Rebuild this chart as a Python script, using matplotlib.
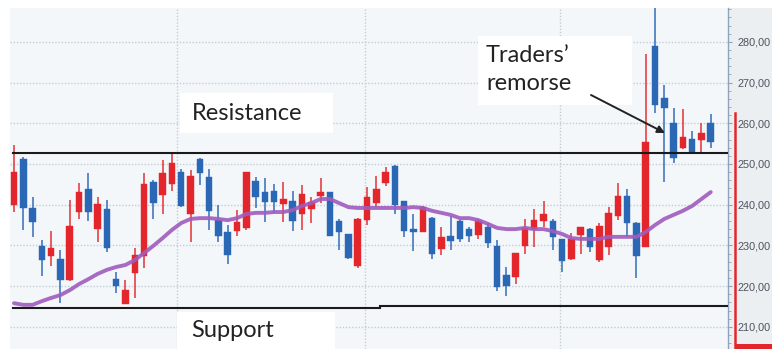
import numpy as np
import matplotlib.pyplot as plt
from matplotlib.patches import Rectangle
from matplotlib.lines import Line2D

# ---- Daily candles (price) ----
opens = [239.9, 251.2, 239.3, 229.9, 227.5, 226.6, 221.5, 238.3, 243.8, 234.0,
         238.9, 221.7, 215.6, 223.1, 227.4, 245.7, 242.4, 245.1, 248.0, 237.7,
         251.2, 246.7, 236.2, 233.4, 233.6, 234.2, 245.8, 243.0, 243.4, 240.2,
         241.0, 237.7, 238.9, 242.2, 243.0, 236.0, 232.7, 224.9, 236.2, 240.5,
         245.3, 249.6, 240.9, 234.0, 233.4, 236.8, 229.0, 232.3, 236.0, 234.0,
         232.6, 234.4, 229.9, 222.7, 222.3, 229.9, 234.0, 236.1, 236.1, 231.5,
         226.7, 232.6, 234.0, 226.4, 229.7, 237.2, 242.1, 235.6, 229.7, 279.1,
         266.2, 260.1, 253.9, 256.1, 255.9, 260.1]
closes = [248.0, 239.1, 235.8, 226.3, 229.4, 221.5, 234.8, 243.0, 238.3, 240.2,
          229.3, 220.1, 219.0, 227.6, 245.0, 240.3, 247.7, 250.3, 239.8, 247.1,
          247.7, 238.5, 232.3, 227.6, 235.8, 248.1, 242.0, 240.6, 240.6, 241.4,
          236.0, 242.6, 240.6, 243.0, 232.4, 233.4, 226.8, 236.4, 242.0, 243.8,
          248.0, 239.9, 233.6, 233.4, 239.4, 227.8, 232.1, 231.2, 231.5, 232.3,
          236.0, 230.7, 219.8, 220.1, 228.2, 234.2, 236.2, 237.6, 232.1, 226.2,
          231.5, 234.4, 229.7, 234.8, 237.9, 242.1, 235.6, 227.4, 255.5, 264.5,
          263.8, 251.4, 256.7, 252.6, 257.7, 255.5]
highs = [254.7, 251.7, 242.0, 231.3, 233.6, 228.9, 241.2, 245.4, 247.8, 242.0,
         241.2, 223.5, 221.5, 229.3, 247.9, 246.0, 251.1, 252.5, 248.7, 248.5,
         251.4, 248.7, 239.9, 235.0, 238.7, 248.1, 246.9, 246.6, 245.1, 245.5,
         243.4, 244.8, 242.0, 246.5, 243.2, 236.5, 232.9, 236.8, 244.4, 247.1,
         249.2, 249.8, 240.9, 237.7, 239.6, 237.1, 234.4, 237.2, 236.2, 234.4,
         236.4, 235.4, 231.3, 224.6, 228.2, 236.4, 238.9, 240.9, 236.5, 231.5,
         233.0, 234.4, 234.2, 235.5, 239.5, 245.3, 243.8, 235.8, 277.0, 289.5,
         269.3, 263.7, 263.4, 258.1, 260.1, 262.4]
lows = [238.3, 233.8, 232.0, 222.5, 224.9, 215.8, 221.3, 236.4, 236.1, 230.9,
        228.5, 218.2, 215.6, 217.0, 224.4, 236.5, 237.7, 243.4, 239.5, 230.9,
        244.8, 233.8, 230.9, 225.4, 232.4, 233.8, 239.1, 235.8, 238.0, 235.8,
        233.6, 233.8, 235.4, 240.3, 232.2, 228.9, 226.6, 224.5, 235.0, 239.5,
        244.6, 237.7, 232.0, 228.7, 233.2, 226.6, 227.6, 228.9, 230.9, 230.9,
        231.5, 229.4, 218.8, 217.6, 220.5, 228.0, 229.5, 234.4, 228.9, 223.5,
        226.5, 227.9, 228.5, 226.0, 227.6, 236.2, 232.1, 221.9, 229.7, 262.5,
        245.7, 250.2, 253.6, 252.6, 252.5, 253.9]

# moving average line
ma = [215.8, 215.4, 215.4, 216.3, 217.1, 217.8, 219.0, 220.5, 221.7, 223.0,
      224.0, 224.7, 225.2, 226.4, 228.1, 229.9, 231.8, 233.8, 235.5, 236.5,
      236.7, 236.7, 236.5, 236.2, 236.7, 237.7, 238.0, 238.0, 238.2, 238.2,
      238.7, 239.7, 240.4, 241.4, 241.4, 240.4, 239.4, 239.2, 239.2, 239.2,
      239.2, 239.2, 239.2, 239.4, 239.2, 238.5, 238.0, 237.5, 236.7, 236.7,
      236.2, 235.3, 234.3, 234.0, 234.0, 234.3, 234.0, 234.0, 233.5, 232.8,
      231.8, 231.6, 231.6, 231.6, 232.1, 232.1, 232.1, 232.1, 233.3, 235.0,
      236.5, 237.5, 238.5, 239.7, 241.4, 243.1]

resistance = 252.6
support_left = 214.6
support_right = 215.1
price_ticks = [210, 220, 230, 240, 250, 260, 270, 280]
month_breaks = [17.5, 37.8, 58.8]

RED = "#e3262c"
BLUE = "#2a67b5"
PURPLE = "#a05cbd"
BG = "#f3f7fa"

W, H = 772, 349
fig = plt.figure(figsize=(W / 100, H / 100), dpi=100)
fig.patch.set_facecolor("white")


# pixel -> data helpers for annotation placement
def px_x(px):
    return (px - 14) / 9.29


def px_y(py):
    return 250 - (py - 164) / 4.07


def fx(px):
    return px / W


def fy(py):
    return 1 - py / H


# price scale panel on the right (behind the axes)
fig.patches.append(Rectangle((fx(728), 0), fx(W) - fx(728), fy(8), transform=fig.transFigure,
                             facecolor="#eceff2", edgecolor="none", zorder=-1))

ax = fig.add_axes([fx(10), 0, fx(728) - fx(10), fy(8)])
ax.set_facecolor(BG)
ax.set_xlim(px_x(10), px_x(728))
ax.set_ylim(px_y(349), px_y(8))

# dotted grid
for p in price_ticks:
    ax.axhline(p, color="#c3ccd5", lw=1.0, ls=(0, (1.0, 1.3)), zorder=1)
for m in month_breaks:
    ax.axvline(m, color="#c3ccd5", lw=1.0, ls=(0, (1.0, 1.3)), zorder=1)

# white label boxes
for (x0, y0, x1, y1) in [(180, 93, 333, 133), (177, 312, 335, 349), (478, 36, 632, 105)]:
    ax.add_patch(Rectangle((px_x(x0), px_y(y1)), px_x(x1) - px_x(x0), px_y(y0) - px_y(y1),
                           facecolor="white", edgecolor="none", zorder=1.5))

# candles
idx = np.arange(len(opens))
o = np.array(opens)
c = np.array(closes)
up = c >= o
colors = np.where(up, RED, BLUE)
ax.vlines(idx, lows, highs, colors=colors, lw=1.4, alpha=0.75, zorder=3)
body_bottom = np.minimum(o, c)
body_h = np.maximum(np.abs(c - o), 0.4)
ax.bar(idx, body_h, bottom=body_bottom, width=0.7, color=colors, edgecolor=colors,
       linewidth=0.3, zorder=4)

# moving average
ax.plot(idx, ma, color=PURPLE, lw=2.8, alpha=0.9, solid_capstyle="round", zorder=5)

# resistance / support
ax.plot([px_x(13), px_x(728)], [resistance, resistance], color="#1a1a1a", lw=1.5, zorder=6)
ax.plot([px_x(13), px_x(380)], [support_left, support_left], color="#1a1a1a", lw=1.5, zorder=6)
ax.plot([px_x(380), px_x(728)], [support_right, support_right], color="#1a1a1a", lw=1.5, zorder=6)

font = dict(family=["Lato", "DejaVu Sans"], fontsize=17, color="#222222", zorder=7)
ax.text(px_x(192), px_y(114), "Resistance", va="center", ha="left", **font)
ax.text(px_x(191), px_y(330), "Support", va="center", ha="left", **font)
ax.text(px_x(486), px_y(55), "Traders\u2019", va="center", ha="left", **font)
ax.text(px_x(486), px_y(84), "remorse", va="center", ha="left", **font)
ax.annotate("", xy=(px_x(665), px_y(133)), xytext=(px_x(591), px_y(95)),
            arrowprops=dict(arrowstyle="-|>", color="#222222", lw=1.4,
                            mutation_scale=11, shrinkA=0, shrinkB=0), zorder=7)

# right price axis
for side in ["top", "left", "bottom"]:
    ax.spines[side].set_visible(False)
ax.spines["right"].set_color("#8fa3ba")
ax.spines["right"].set_linewidth(1.0)
ax.set_xticks([])
ax.yaxis.tick_right()
ax.set_yticks(price_ticks)
ax.set_yticklabels([f"{p},00" for p in price_ticks])
ax.set_yticks(np.arange(206, 290, 2), minor=True)
ax.tick_params(axis="y", which="major", length=3, color="#8fa3ba", pad=3.5,
               labelsize=7.8, labelcolor="#4c545e")
ax.tick_params(axis="y", which="minor", length=2, color="#8fa3ba")
for lbl in ax.get_yticklabels():
    lbl.set_family(["Liberation Sans", "DejaVu Sans"])

# current price marker on the scale
fig.lines.append(Line2D([fx(735), fx(735)], [fy(113), 0], transform=fig.transFigure,
                        color=RED, lw=1.8, zorder=2))
fig.patches.append(Rectangle((fx(735), 0), fx(W) - fx(735), fy(344), transform=fig.transFigure,
                             facecolor=RED, edgecolor="none", zorder=2))

fig.savefig("out.png", dpi=100)
